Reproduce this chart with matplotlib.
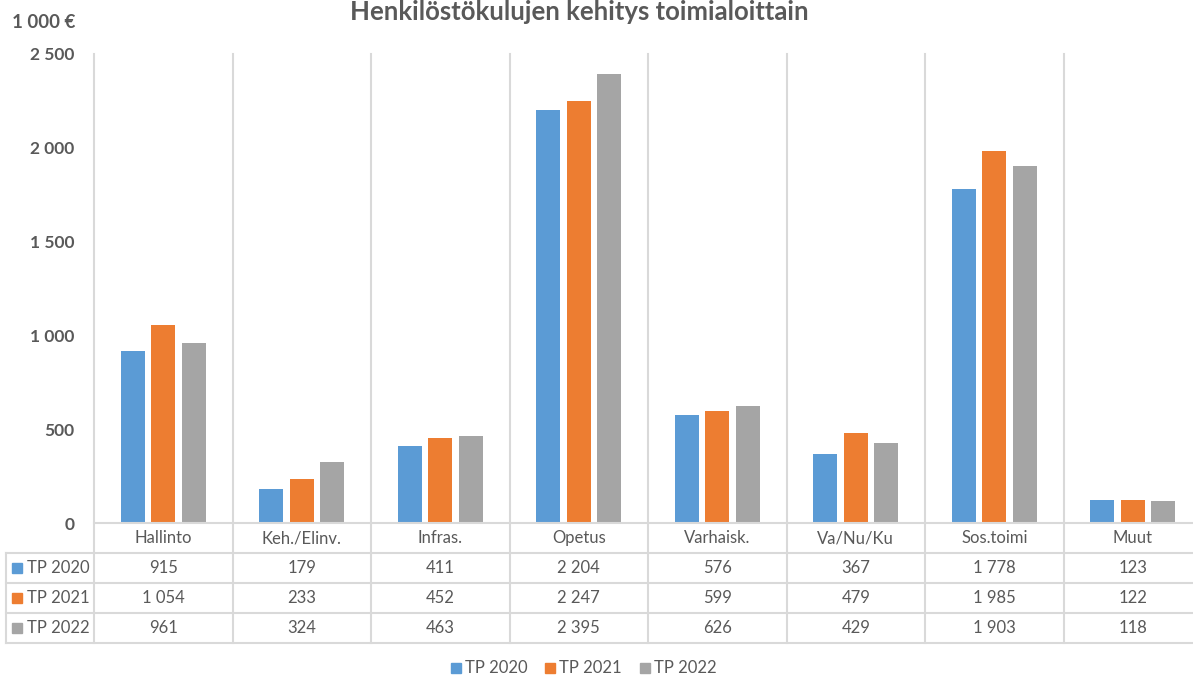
import matplotlib
matplotlib.use("Agg")
import matplotlib.pyplot as plt
from matplotlib.patches import Rectangle

categories = ["Hallinto", "Keh./Elinv.", "Infras.", "Opetus", "Varhaisk.", "Va/Nu/Ku", "Sos.toimi", "Muut"]
series_names = ["TP 2020", "TP 2021", "TP 2022"]
tp2020 = [915, 179, 411, 2204, 576, 367, 1778, 123]
tp2021 = [1054, 233, 452, 2247, 599, 479, 1985, 122]
tp2022 = [961, 324, 463, 2395, 626, 429, 1903, 118]
colors = ["#5B9BD5", "#ED7D31", "#A5A5A5"]
yticks = [0, 500, 1000, 1500, 2000, 2500]

plt.rcParams['font.family'] = ['Lato', 'DejaVu Sans']
TXT = "#595959"
GRID = "#D9D9D9"

W, H = 1193, 678
fig = plt.figure(figsize=(W / 100, H / 100), dpi=100)

def fx(px):
    return px / W

def fy(py):
    return 1 - py / H

x0, x1 = 94, 1202
ytop, ybot = 54, 523
ax = fig.add_axes([fx(x0), fy(ybot), fx(x1) - fx(x0), fy(ytop) - fy(ybot)])
ax.set_xlim(-0.5, len(categories) - 0.5)
ax.set_ylim(0, 2500)
for s in ax.spines.values():
    s.set_visible(False)
ax.set_xticks([])
ax.set_yticks(yticks)
ax.set_yticklabels([f"{v:,}".replace(",", " ") for v in yticks], fontsize=12.5,
                   fontweight="bold", color=TXT)
ax.tick_params(axis="y", length=0, pad=14)

series = [tp2020, tp2021, tp2022]
bw = 0.175
off = 0.22
xs = list(range(len(categories)))
for i, (vals, c) in enumerate(zip(series, colors)):
    ax.bar([x + (i - 1) * off for x in xs], vals, width=bw, color=c, zorder=3)

def hline(y, xa, xb):
    fig.add_artist(plt.Line2D([fx(xa), fx(xb)], [fy(y), fy(y)], color=GRID, lw=1.5))

def vline(x, ya, yb):
    fig.add_artist(plt.Line2D([fx(x), fx(x)], [fy(ya), fy(yb)], color=GRID, lw=1.5))

cw = (x1 - x0) / len(categories)
rows = [523, 553, 583, 613, 643]
for k in range(len(categories) + 1):
    xp = x0 + k * cw
    vline(xp, ytop, rows[-1])
vline(6, rows[1], rows[-1])
hline(rows[0], x0, x1)
for r in rows[1:]:
    hline(r, 6, x1)

for k, cat in enumerate(categories):
    fig.text(fx(x0 + (k + 0.5) * cw), fy((rows[0] + rows[1]) / 2), cat,
             ha="center", va="center", fontsize=12, color=TXT)

def fmt(v):
    return f"{v:,}".replace(",", " ")

for r, (name, vals, c) in enumerate(zip(series_names, series, colors)):
    yc = (rows[r + 1] + rows[r + 2]) / 2
    fig.add_artist(Rectangle((fx(12), fy(yc + 5)), fx(10), fy(yc - 5) - fy(yc + 5), color=c))
    fig.text(fx(27), fy(yc), name, ha="left", va="center", fontsize=12, color=TXT)
    for k, v in enumerate(vals):
        fig.text(fx(x0 + (k + 0.5) * cw), fy(yc), fmt(v), ha="center", va="center",
                 fontsize=12, color=TXT)

leg_y = 668
leg_x = [451, 545, 640]
for name, c, lx in zip(series_names, colors, leg_x):
    fig.add_artist(Rectangle((fx(lx), fy(leg_y + 5)), fx(10), fy(leg_y - 5) - fy(leg_y + 5), color=c))
    fig.text(fx(lx + 14), fy(leg_y), name, ha="left", va="center", fontsize=12, color=TXT)

fig.text(fx(579), fy(20), "Henkilöstökulujen kehitys toimialoittain", ha="center", va="baseline",
         fontsize=18.5, fontweight="bold", color=TXT)
fig.text(fx(12), fy(22), "1 000 €", ha="left", va="center", fontsize=13.5,
         fontweight="bold", color=TXT)

fig.savefig("out.png", dpi=100, facecolor="white")
